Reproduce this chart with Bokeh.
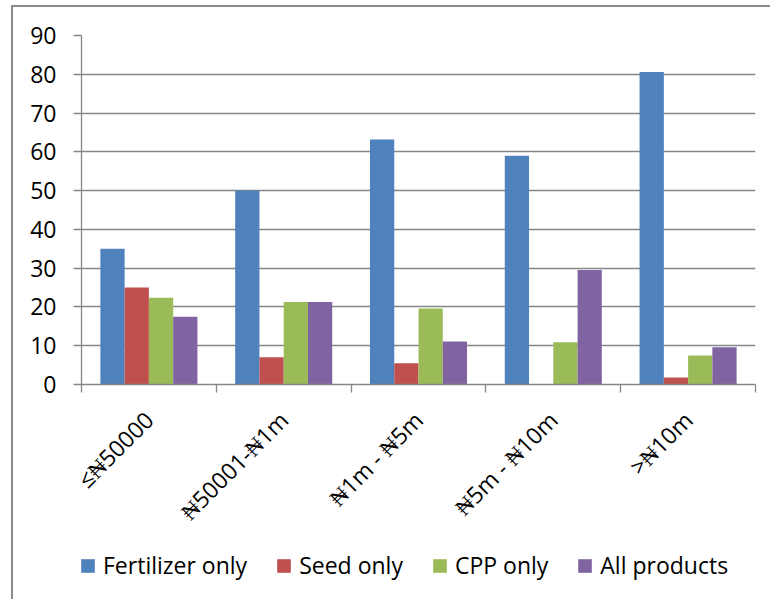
import math
from bokeh.plotting import figure
from bokeh.layouts import column
from bokeh.models import ColumnDataSource, FixedTicker, Legend, LegendItem, Range1d
from bokeh.transform import dodge
from bokeh.embed import file_html
from bokeh.resources import INLINE

# ---- data ----
categories = ["≤₦50000", "₦50001-₦1m", "₦1m - ₦5m", "₦5m - ₦10m", ">₦10m"]
fertilizer_only = [35.0, 50.0, 63.2, 59.0, 80.6]
seed_only = [25.0, 7.0, 5.5, 0.0, 1.8]
cpp_only = [22.4, 21.3, 19.6, 10.9, 7.5]
all_products = [17.5, 21.3, 11.1, 29.5, 9.6]
series_names = ["Fertilizer only", "Seed only", "CPP only", "All products"]
series_keys = ["fert", "seed", "cpp", "all"]
colors = ["#4F81BD", "#C0504D", "#9BBB59", "#8064A2"]
y_ticks = [0, 10, 20, 30, 40, 50, 60, 70, 80, 90]

positions = list(range(1, len(categories) + 1))
source = ColumnDataSource(dict(
    x=positions,
    fert=fertilizer_only,
    seed=seed_only,
    cpp=cpp_only,
    all=all_products,
))

FONT = "Open Sans"
GRAY = "#868686"

p = figure(
    width=757, height=540,
    x_range=Range1d(0.5, len(categories) + 0.5),
    y_range=Range1d(0, 90),
    output_backend="svg", toolbar_location=None,
    min_border_left=68, min_border_top=28, min_border_right=15, min_border_bottom=163,
)
p.outline_line_color = None
p.background_fill_color = "white"
p.border_fill_color = "white"

bar_w = 0.18
offsets = [-0.27, -0.09, 0.09, 0.27]
for key, color, off in zip(series_keys, colors, offsets):
    p.vbar(x=dodge("x", off), top=key, width=bar_w, bottom=0, source=source,
           fill_color=color, line_color=None)

# y axis
p.yaxis.ticker = FixedTicker(ticks=y_ticks)
p.yaxis.axis_line_color = GRAY
p.yaxis.axis_line_width = 1.3
p.yaxis.major_tick_line_color = GRAY
p.yaxis.major_tick_line_width = 1.3
p.yaxis.major_tick_out = 8
p.yaxis.major_tick_in = 0
p.yaxis.minor_tick_line_color = None
p.yaxis.major_label_standoff = 17
p.yaxis.major_label_text_font = FONT
p.yaxis.major_label_text_font_size = "23px"
p.yaxis.major_label_text_color = "black"

# x axis: labels at centers, tick marks at category boundaries
boundaries = [i + 0.5 for i in range(len(categories) + 1)]
p.xaxis.ticker = FixedTicker(ticks=positions, minor_ticks=boundaries)
p.xaxis.major_label_overrides = {pos: cat for pos, cat in zip(positions, categories)}
p.xaxis.major_label_orientation = math.pi / 4
p.xaxis.major_tick_line_color = None
p.xaxis.major_tick_out = 8
p.xaxis.major_tick_in = 0
p.xaxis.minor_tick_line_color = GRAY
p.xaxis.minor_tick_line_width = 1.3
p.xaxis.minor_tick_out = 8
p.xaxis.minor_tick_in = 0
p.xaxis.axis_line_color = GRAY
p.xaxis.axis_line_width = 1.3
p.xaxis.major_label_standoff = 23
p.xaxis.major_label_text_font = FONT
p.xaxis.major_label_text_font_size = "23px"
p.xaxis.major_label_text_color = "black"

p.xgrid.grid_line_color = None
p.ygrid.ticker = FixedTicker(ticks=y_ticks)
p.ygrid.grid_line_color = GRAY
p.ygrid.grid_line_width = 1.3

# ---- legend strip below the chart ----
LH = 52
lg = figure(
    width=757, height=LH,
    x_range=Range1d(0, 757), y_range=Range1d(0, LH),
    output_backend="svg", toolbar_location=None, min_border=0,
)
lg.axis.visible = False
lg.grid.visible = False
lg.outline_line_color = None
leg_renderers = []
for key, c in zip(series_keys, colors):
    r = lg.vbar(x="x", top=key, width=0.18, source=source, fill_color=c, line_color=None)
    r.visible = False
    leg_renderers.append(r)
legend = Legend(
    items=[LegendItem(label=n, renderers=[r]) for n, r in zip(series_names, leg_renderers)],
    location=(-2, 18),
    orientation="horizontal",
    glyph_width=17, glyph_height=17,
    label_standoff=7, spacing=28,
    padding=0, margin=0,
    border_line_color=None, background_fill_alpha=0,
    inactive_fill_alpha=0,
    label_text_font=FONT, label_text_font_size="23px", label_text_color="black",
)
lg.add_layout(legend)

layout = column(p, lg, spacing=0)
layout.styles = {"margin-left": "11px", "margin-top": "5px",
                 "border-left": "2px solid #8a8a8a", "border-top": "2px solid #8a8a8a"}

open("out.html", "w").write(file_html(layout, INLINE))
